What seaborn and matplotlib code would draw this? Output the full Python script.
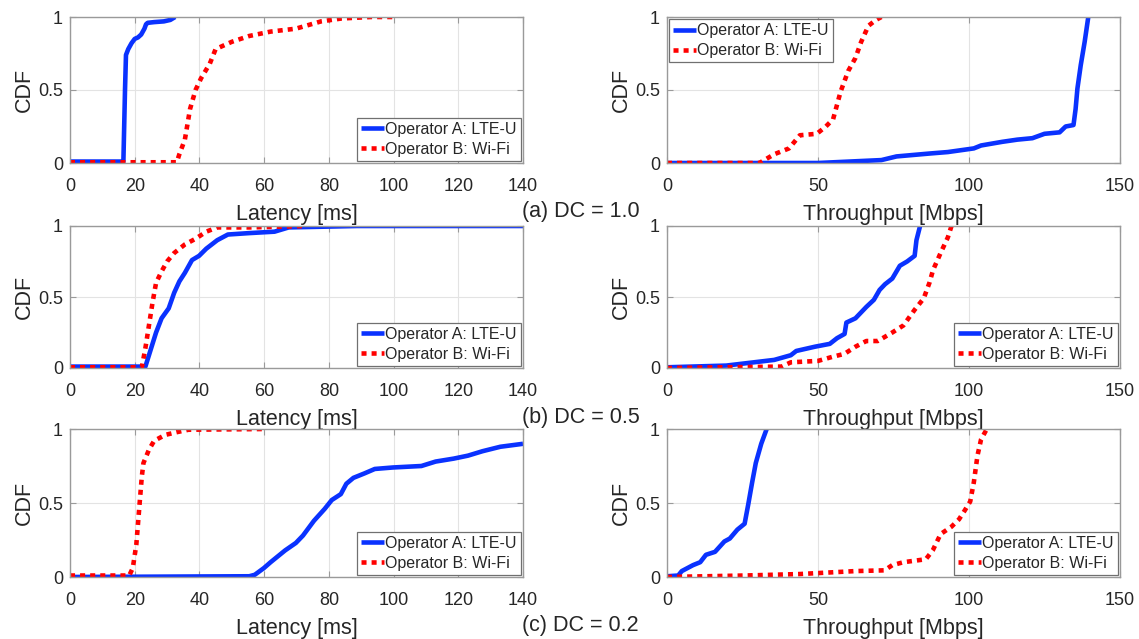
import numpy as np
import pandas as pd
import seaborn as sns
import matplotlib
matplotlib.use("Agg")
import matplotlib.pyplot as plt

# ---------------- data: CDF curves (x value, cumulative probability) ----------------
# (a) DC = 1.0
lat_a_lte_x = [0, 16.5, 17.0, 17.3, 18, 19, 20, 21, 22, 23, 23.5, 24, 26, 29, 31, 32.5]
lat_a_lte_y = [0.01, 0.01, 0.50, 0.74, 0.78, 0.82, 0.85, 0.86, 0.88, 0.92, 0.95, 0.96, 0.965, 0.97, 0.98, 1.0]
lat_a_wifi_x = [0, 33, 33.8, 35.5, 37.1, 38.8, 40.5, 43.2, 45, 50, 55.4, 62, 69.8, 77.6, 84, 93, 101]
lat_a_wifi_y = [0.005, 0.005, 0.06, 0.16, 0.37, 0.50, 0.58, 0.68, 0.78, 0.83, 0.87, 0.90, 0.92, 0.97, 0.99, 1.0, 1.0]

thr_a_lte_x = [0, 50, 71, 76, 87, 93, 101.6, 104, 111, 116, 121, 125, 130, 132, 134.6, 135.3, 135.9, 137, 138.3, 139.5]
thr_a_lte_y = [0.0, 0.0, 0.02, 0.045, 0.065, 0.075, 0.10, 0.12, 0.145, 0.16, 0.17, 0.20, 0.21, 0.25, 0.26, 0.37, 0.51, 0.67, 0.83, 1.0]
thr_a_wifi_x = [0, 30.6, 35.5, 40.4, 44, 49.6, 52.6, 55, 57.5, 60, 62.4, 64.3, 66.7, 69.2, 71]
thr_a_wifi_y = [0.0, 0.0, 0.06, 0.10, 0.19, 0.20, 0.25, 0.30, 0.49, 0.63, 0.72, 0.83, 0.94, 0.98, 1.0]

# (b) DC = 0.5
lat_b_lte_x = [0, 23.3, 24.4, 26.6, 28.3, 30.5, 32.2, 33.8, 35.5, 37.7, 39.9, 42.1, 45.5, 48.8, 55.4, 63.2, 67.6, 88.7, 140]
lat_b_lte_y = [0.01, 0.01, 0.09, 0.25, 0.35, 0.42, 0.53, 0.61, 0.67, 0.76, 0.79, 0.84, 0.90, 0.94, 0.95, 0.96, 0.99, 1.0, 1.0]
lat_b_wifi_x = [0, 22.2, 23.3, 24.4, 25.5, 26.6, 28.3, 30, 32.2, 35.5, 38.8, 42.1, 45.5, 55.4, 73.2]
lat_b_wifi_y = [0.005, 0.005, 0.14, 0.30, 0.46, 0.60, 0.68, 0.75, 0.81, 0.87, 0.91, 0.96, 0.99, 0.99, 1.0]

thr_b_lte_x = [0, 19.6, 35.5, 41, 42.8, 49, 53.9, 56.3, 58.8, 59.4, 62.4, 66, 68.5, 70.4, 72.2, 74.6, 77.1, 79.5, 82, 82.6, 83.8]
thr_b_lte_y = [0.005, 0.017, 0.057, 0.09, 0.12, 0.15, 0.17, 0.21, 0.24, 0.32, 0.35, 0.43, 0.48, 0.55, 0.59, 0.63, 0.72, 0.75, 0.79, 0.90, 1.0]
thr_b_wifi_x = [0, 38, 41, 50, 55, 58.8, 62.4, 66, 69.8, 74.6, 78.3, 82, 85, 86.9, 88.1, 90.6, 93, 94.2]
thr_b_wifi_y = [0.0, 0.01, 0.04, 0.05, 0.08, 0.10, 0.15, 0.19, 0.19, 0.25, 0.30, 0.41, 0.49, 0.60, 0.69, 0.81, 0.92, 1.0]

# (c) DC = 0.2
lat_c_lte_x = [0, 55.4, 57.1, 59.9, 62, 66.5, 69.8, 72, 75.4, 78.7, 80.9, 83.7, 85.4, 87.6, 91, 94.2, 99.8,
               108.6, 113, 118.6, 123, 127.5, 133, 140]
lat_c_lte_y = [0.0, 0.005, 0.015, 0.06, 0.10, 0.18, 0.23, 0.28, 0.38, 0.46, 0.52, 0.56, 0.63, 0.67, 0.70, 0.73, 0.74,
               0.75, 0.78, 0.80, 0.82, 0.85, 0.88, 0.90]
lat_c_wifi_x = [0, 18.3, 19.4, 20.5, 21.6, 22.2, 22.7, 24.4, 26, 29.4, 33.3, 36.6, 60.4]
lat_c_wifi_y = [0.01, 0.01, 0.06, 0.22, 0.52, 0.68, 0.77, 0.86, 0.92, 0.96, 0.98, 0.995, 1.0]

thr_c_lte_x = [0, 3.7, 4.9, 8.6, 11, 12.9, 15.9, 19, 20.8, 23.3, 25.7, 26.9, 28.2, 29.4, 31.2, 33]
thr_c_lte_y = [0.005, 0.01, 0.04, 0.08, 0.10, 0.15, 0.17, 0.24, 0.26, 0.32, 0.36, 0.49, 0.64, 0.77, 0.90, 1.0]
thr_c_wifi_x = [0, 25.7, 44, 62.4, 72, 74.6, 78.3, 85.7, 88, 90.6, 94.2, 96.7, 98.6, 100.4, 101.6, 102.8, 104, 105.9]
thr_c_wifi_y = [0.0, 0.01, 0.02, 0.04, 0.045, 0.08, 0.10, 0.12, 0.18, 0.29, 0.34, 0.39, 0.45, 0.51, 0.64, 0.82, 0.93, 1.0]

series_names = ["Operator A: LTE-U", "Operator B: Wi-Fi"]
captions = ["(a) DC = 1.0", "(b) DC = 0.5", "(c) DC = 0.2"]
latency_ticks = [0, 20, 40, 60, 80, 100, 120, 140]
throughput_ticks = [0, 50, 100, 150]
cdf_ticks = [0, 0.5, 1]
cdf_tick_labels = ["0", "0.5", "1"]

# ---------------- styling ----------------
sns.set_theme(style="whitegrid")
plt.rcParams["font.family"] = ["Liberation Sans", "DejaVu Sans"]
text_color = "#262626"
spine_color = "#9a9a9a"
grid_color = "#e3e3e3"
blue = "#0a32ff"
red = "#ff0000"
dotted = (0, (1.1, 1.1))

W, H = 1139, 639
fig = plt.figure(figsize=(W / 100, H / 100), dpi=100)
fig.patch.set_facecolor("white")

# axes rectangles in pixels: (left, top, right, bottom)
col_x = [(70, 523), (667, 1120)]
row_y = [(17, 163), (226, 368), (429, 577)]
caption_y = [212, 418, 625]

panels = [
    [(lat_a_lte_x, lat_a_lte_y, lat_a_wifi_x, lat_a_wifi_y, "lower right"),
     (thr_a_lte_x, thr_a_lte_y, thr_a_wifi_x, thr_a_wifi_y, "upper left")],
    [(lat_b_lte_x, lat_b_lte_y, lat_b_wifi_x, lat_b_wifi_y, "lower right"),
     (thr_b_lte_x, thr_b_lte_y, thr_b_wifi_x, thr_b_wifi_y, "lower right")],
    [(lat_c_lte_x, lat_c_lte_y, lat_c_wifi_x, lat_c_wifi_y, "lower right"),
     (thr_c_lte_x, thr_c_lte_y, thr_c_wifi_x, thr_c_wifi_y, "lower right")],
]

for r in range(3):
    top, bottom = row_y[r]
    for c in range(2):
        left, right = col_x[c]
        ax = fig.add_axes([left / W, 1 - bottom / H, (right - left) / W, (bottom - top) / H])
        lx, ly, wx, wy, loc = panels[r][c]
        df_lte = pd.DataFrame({"x": lx, "y": ly})
        df_wifi = pd.DataFrame({"x": wx, "y": wy})
        sns.lineplot(data=df_lte, x="x", y="y", ax=ax, color=blue, lw=3.3,
                     estimator=None, sort=False, label=series_names[0])
        sns.lineplot(data=df_wifi, x="x", y="y", ax=ax, color=red, lw=3.3,
                     linestyle=dotted, estimator=None, sort=False, label=series_names[1])
        for ln in ax.get_lines():
            ln.set_solid_capstyle("butt")
            ln.set_dash_capstyle("butt")

        if c == 0:
            ax.set_xlim(0, 140)
            ax.set_xticks(latency_ticks)
            ax.set_xlabel("Latency [ms]", fontsize=15.5, color=text_color, labelpad=6)
        else:
            ax.set_xlim(0, 150)
            ax.set_xticks(throughput_ticks)
            ax.set_xlabel("Throughput [Mbps]", fontsize=15.5, color=text_color, labelpad=6)
        ax.set_ylim(0, 1)
        ax.set_yticks(cdf_ticks)
        ax.set_yticklabels(cdf_tick_labels)
        ax.set_ylabel("CDF", fontsize=15.5, color=text_color, labelpad=2)

        ax.set_facecolor("white")
        ax.grid(True, color=grid_color, lw=0.8)
        for s in ax.spines.values():
            s.set_visible(True)
            s.set_color(spine_color)
            s.set_linewidth(1.0)
        ax.tick_params(axis="both", which="both", direction="in", length=4, width=0.8,
                       color=spine_color, labelsize=13, labelcolor=text_color,
                       top=True, right=True, bottom=True, left=True)
        ax.tick_params(axis="x", pad=11)
        ax.tick_params(axis="y", pad=5)

        leg = ax.legend(loc=loc, fontsize=11.5, frameon=True, fancybox=False, framealpha=1,
                        edgecolor="#707070", borderpad=0.25, borderaxespad=0.15,
                        handlelength=1.4, handletextpad=0.1, labelspacing=0.3)
        leg.get_frame().set_linewidth(0.9)
        for t in leg.get_texts():
            t.set_color(text_color)

    fig.text(522 / W, 1 - caption_y[r] / H, captions[r], fontsize=15.5, color=text_color,
             ha="left", va="center")

fig.savefig("out.png", dpi=100, facecolor="white")
